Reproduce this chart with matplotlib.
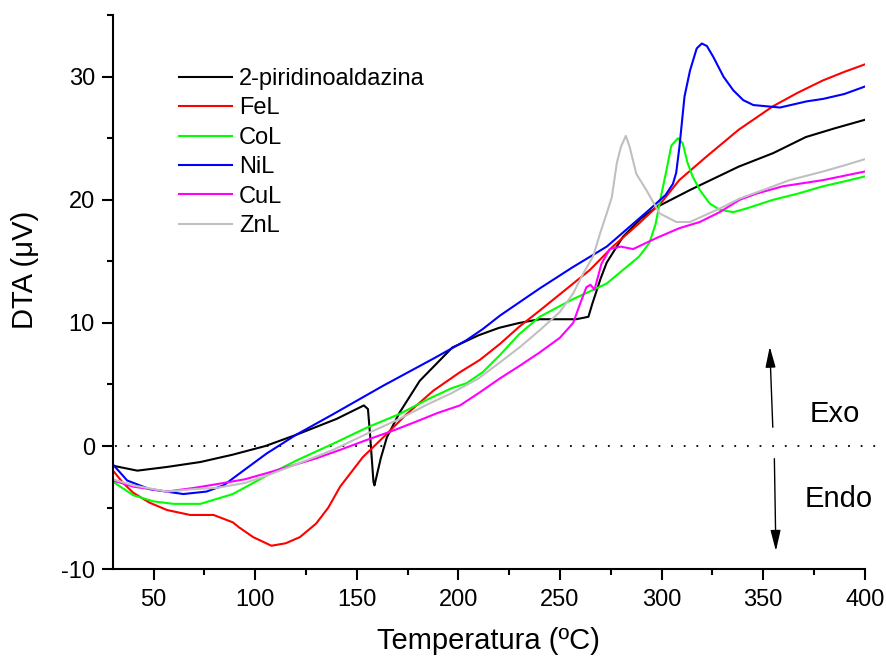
import numpy as np
import matplotlib
matplotlib.use("Agg")
import matplotlib.pyplot as plt
from matplotlib.ticker import MultipleLocator

plt.rcParams['font.family'] = ['Liberation Sans', 'DejaVu Sans']
plt.rcParams['axes.unicode_minus'] = False

#%% Datos
T_lig = [30, 42, 56.6, 73, 89, 105, 120, 140, 153.5, 155.5, 156.5, 158.2, 158.7, 161.8, 164.8, 171, 181, 197, 210, 220, 230, 240, 250, 258, 264, 266, 270, 273, 281, 290, 297.5, 314, 338, 355, 371, 385, 400]
V_lig = [-1.6, -2.0, -1.7, -1.3, -0.7, 0.0, 0.9, 2.2, 3.3, 3.0, 1.0, -2.9, -3.2, -1.0, 0.7, 2.7, 5.3, 8.0, 9.0, 9.6, 10.0, 10.3, 10.3, 10.3, 10.5, 11.6, 13.6, 14.9, 17.0, 18.5, 19.4, 20.8, 22.7, 23.8, 25.1, 25.8, 26.5]

T_fe = [30, 35, 40, 48, 56.6, 68, 79.5, 89, 92, 99, 108, 115, 122, 130, 136, 141.8, 153, 163, 174.6, 187.7, 200.8, 210.6, 220.5, 230, 240, 252, 264.7, 276, 289, 300, 308.7, 322, 338, 354.8, 367, 379.4, 390, 400]
V_fe = [-2.0, -3.0, -3.8, -4.6, -5.2, -5.6, -5.6, -6.2, -6.6, -7.4, -8.1, -7.9, -7.4, -6.3, -5.0, -3.3, -0.9, 0.7, 2.6, 4.5, 6.0, 7.0, 8.3, 9.7, 11.0, 12.6, 14.3, 16.2, 18.1, 19.8, 21.6, 23.5, 25.7, 27.6, 28.7, 29.7, 30.4, 31.0]

T_co = [30, 40, 50, 60, 73, 89, 105.7, 120, 138.5, 155, 171, 185, 196.7, 204, 212, 220.5, 230, 240, 256, 273, 289, 294, 297, 300, 302.4, 304.8, 308, 310.4, 312.8, 315.3, 318.8, 323.7, 328.6, 335.3, 341.8, 354.8, 367, 379.4, 390, 400]
V_co = [-2.9, -4.0, -4.5, -4.7, -4.7, -3.9, -2.4, -1.2, 0.2, 1.5, 2.6, 3.8, 4.7, 5.1, 6.0, 7.4, 9.1, 10.5, 11.9, 13.2, 15.4, 16.5, 18.0, 20.5, 22.4, 24.4, 25.0, 24.6, 23.0, 21.9, 20.8, 19.7, 19.2, 19.0, 19.3, 20.0, 20.5, 21.1, 21.5, 21.9]

T_ni = [30, 37, 48, 64.6, 76, 84.4, 95, 105.7, 120, 138.5, 163, 187.7, 204, 212, 220.5, 240, 256, 273, 294, 302, 305.6, 307.2, 308.8, 311.3, 314, 317.3, 319.8, 322.3, 325.5, 330.5, 335.3, 340.2, 345.2, 358.3, 371.4, 379.5, 390, 400]
V_ni = [-1.5, -2.8, -3.5, -3.9, -3.7, -3.2, -1.9, -0.6, 0.9, 2.6, 4.9, 7.1, 8.6, 9.5, 10.6, 12.8, 14.5, 16.2, 19.2, 20.4, 21.3, 22.2, 24.3, 28.4, 30.5, 32.3, 32.7, 32.5, 31.6, 30.0, 28.9, 28.1, 27.7, 27.5, 28.0, 28.2, 28.6, 29.2]

T_cu = [30, 40, 56.6, 70, 81, 95, 105.7, 120, 130, 142, 155, 167, 179.5, 190, 200.8, 210, 220.5, 230, 240, 250, 256.5, 260, 263, 265, 267, 270.4, 274.5, 280, 286, 297.5, 308.8, 318.8, 328.6, 338.4, 346.6, 359.6, 379.4, 400]
V_cu = [-2.8, -3.3, -3.7, -3.4, -3.1, -2.7, -2.2, -1.5, -1.0, -0.3, 0.5, 1.2, 2.0, 2.7, 3.3, 4.3, 5.5, 6.5, 7.6, 8.8, 10.0, 11.6, 12.9, 13.1, 12.7, 14.8, 16.0, 16.2, 16.0, 16.9, 17.7, 18.2, 19.0, 20.0, 20.5, 21.1, 21.6, 22.3]

T_zn = [30, 40, 56.6, 70, 81, 95, 105.7, 120, 138.5, 155, 171, 185, 196.7, 210, 220.5, 230, 240, 250, 256.5, 261.4, 266.3, 269.8, 273, 275.5, 278, 280, 282.4, 284.3, 287.6, 292.5, 299, 307.3, 314, 322, 330, 338.4, 350, 363, 379.4, 390, 400]
V_zn = [-2.7, -3.2, -3.7, -3.5, -3.4, -3.0, -2.4, -1.5, -0.3, 1.0, 2.2, 3.4, 4.3, 5.5, 6.8, 8.0, 9.4, 10.9, 12.4, 14.0, 15.4, 17.3, 18.9, 20.2, 23.0, 24.3, 25.2, 24.3, 22.1, 20.8, 18.9, 18.2, 18.2, 18.8, 19.4, 20.1, 20.8, 21.6, 22.3, 22.8, 23.3]

series = [
    ('2-piridinoaldazina', T_lig, V_lig, 'black'),
    ('FeL', T_fe, V_fe, '#ff0000'),
    ('CoL', T_co, V_co, '#00ff00'),
    ('NiL', T_ni, V_ni, '#0000ff'),
    ('CuL', T_cu, V_cu, '#ff00ff'),
    ('ZnL', T_zn, V_zn, '#c0c0c0'),
]

#%% Figura
fig = plt.figure(figsize=(8.86, 6.61), dpi=100)
ax = fig.add_axes([0.1275, 0.139, 0.8485, 0.838])

# linea de cero punteada (se sale un poco del eje)
ax.plot([31, 406], [0, 0], color='black', linewidth=1.3, linestyle=(0, (1, 6)), clip_on=False)

for nombre, t, v, c in series:
    ax.plot(t, v, color=c, linewidth=1.5, label=nombre)

ax.set_xlim(30, 400)
ax.set_ylim(-10, 35)
ax.spines['top'].set_visible(False)
ax.spines['right'].set_visible(False)
for s in ['left', 'bottom']:
    ax.spines[s].set_linewidth(1.5)

ax.xaxis.set_major_locator(MultipleLocator(50))
ax.xaxis.set_minor_locator(MultipleLocator(25))
ax.yaxis.set_major_locator(MultipleLocator(10))
ax.yaxis.set_minor_locator(MultipleLocator(5))
ax.tick_params(which='major', direction='out', length=8, width=1.5, labelsize=17)
ax.tick_params(axis='x', which='major', pad=6)
ax.tick_params(axis='y', which='major', pad=5)
ax.tick_params(which='minor', direction='out', length=4.5, width=1.5)

ax.set_xlabel('Temperatura (ºC)', fontsize=21, va='top')
ax.set_ylabel('DTA (μV)', fontsize=21)
ax.xaxis.set_label_coords(0.5, -0.104)
ax.yaxis.set_label_coords(-0.099, 0.54)

# flechas Exo / Endo
ax.annotate('', xy=(353.2, 8.3), xytext=(354.8, 1.3),
            arrowprops=dict(arrowstyle='-|>,head_length=0.9,head_width=0.22', color='black', lw=1, mutation_scale=14))
ax.annotate('', xy=(356.3, -8.75), xytext=(355.5, -0.8),
            arrowprops=dict(arrowstyle='-|>,head_length=0.9,head_width=0.22', color='black', lw=1, mutation_scale=14))
ax.text(385.4, 2.6, 'Exo', fontsize=21, ha='center', va='center')
ax.text(387.4, -4.3, 'Endo', fontsize=21, ha='center', va='center')

ax.legend(loc='upper left', bbox_to_anchor=(179 / 886, 1 - 68 / 661),
          bbox_transform=fig.transFigure, frameon=False, fontsize=17,
          handlelength=2.25, handletextpad=0.3, labelspacing=0.315,
          borderpad=0, borderaxespad=0)

fig.savefig('out.png', dpi=100)
